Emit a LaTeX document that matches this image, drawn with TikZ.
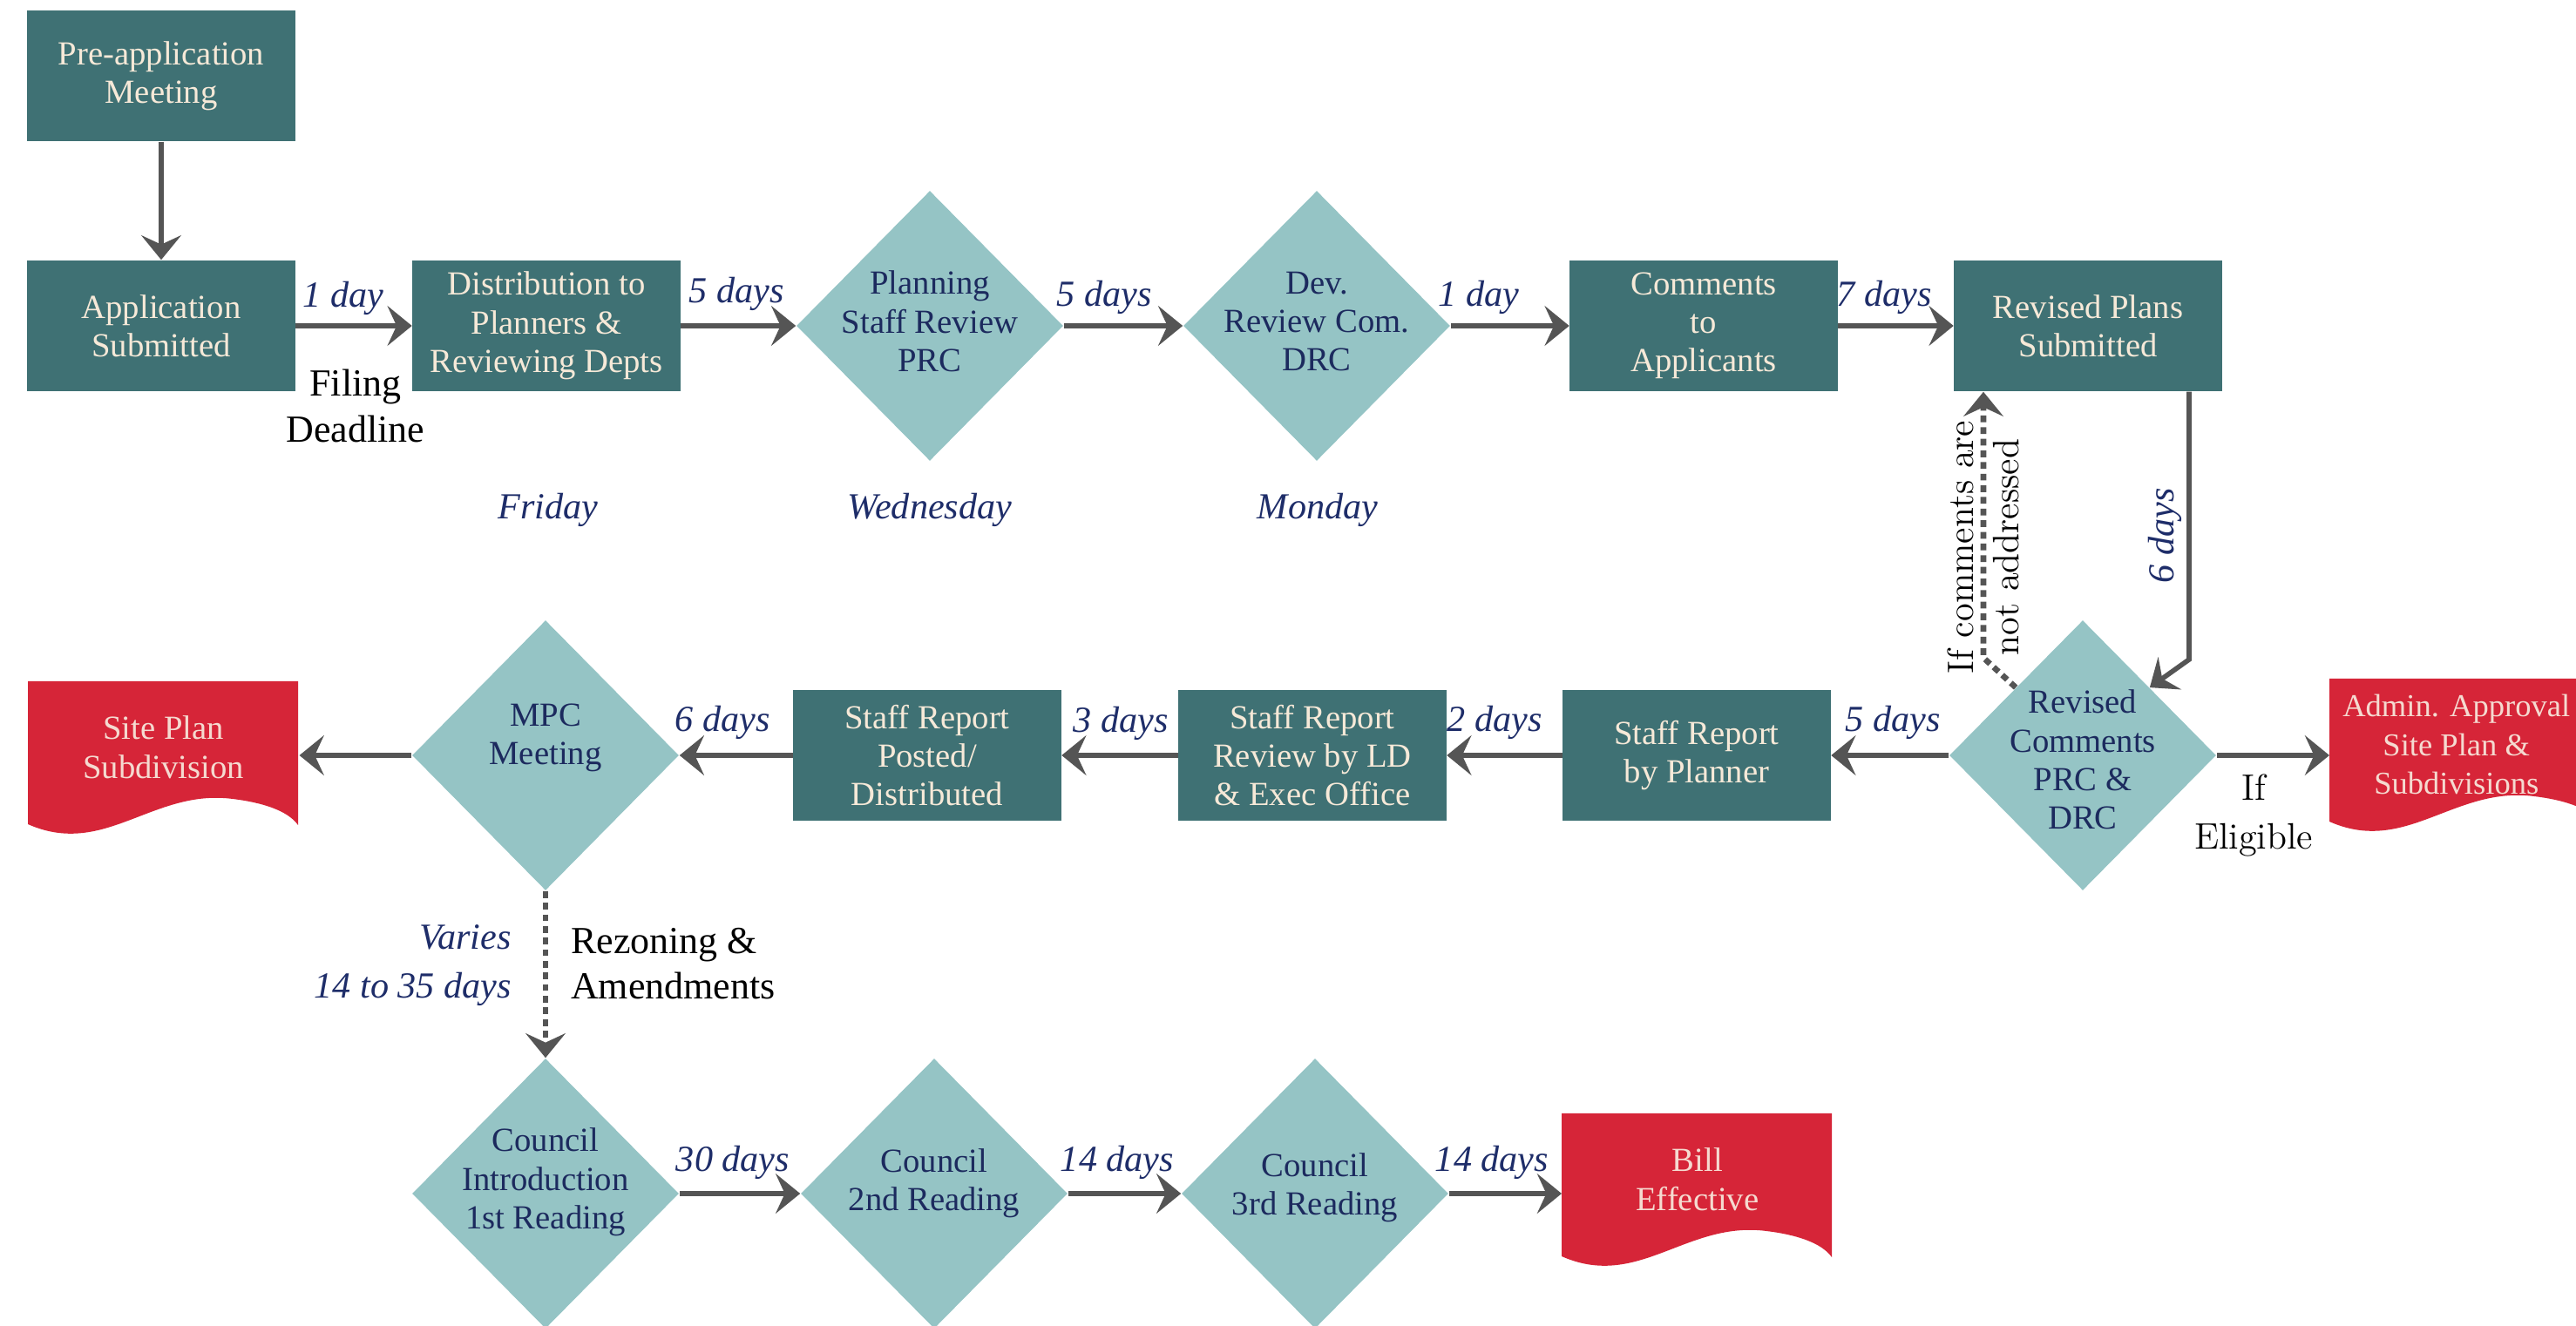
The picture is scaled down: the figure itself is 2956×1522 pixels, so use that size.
\documentclass[tikz,border=0pt]{standalone}
\usepackage{fontspec}
\newfontfamily\garfont{Liberation Serif}
\usetikzlibrary{shapes.geometric, arrows.meta, calc}

\definecolor{boxteal}{RGB}{63,113,116}
\definecolor{diateal}{RGB}{149,196,197}
\definecolor{docred}{RGB}{214,37,56}
\definecolor{navy}{RGB}{28,42,94}
\definecolor{labnavy}{RGB}{30,45,105}
\definecolor{cream}{RGB}{246,233,216}
\definecolor{pinkcream}{RGB}{245,218,208}
\definecolor{arrgray}{RGB}{85,85,85}

% red "document" shape with a wavy lower edge; #1 is its top-left corner
\newcommand{\wavedoc}[1]{%
  \fill[docred] (#1) -- ($(#1)+(310,0)$) -- ($(#1)+(310,165)$)
    .. controls ($(#1)+(298,148)$) and ($(#1)+(268,139)$) .. ($(#1)+(235,135)$)
    .. controls ($(#1)+(143,123)$) and ($(#1)+(88,203)$) .. ($(#1)+(0,164)$) -- cycle;}

\begin{document}
\begin{tikzpicture}[x=0.01cm, y=-0.01cm,
  tealbox/.style={rectangle, fill=boxteal, minimum width=3.07cm, minimum height=1.5cm,
    inner sep=0pt, align=center, text=cream, font=\garfont\fontsize{11}{12.6}\selectfont},
  dia/.style={diamond, aspect=1, fill=diateal, minimum width=3.06cm, minimum height=3.1cm, inner sep=0pt},
  diatext/.style={align=center, text=navy, inner sep=0pt, font=\garfont\fontsize{11}{12.6}\selectfont},
  docbox/.style={rectangle, anchor=north west, minimum width=3.1cm, minimum height=1.5cm,
    inner sep=0pt, align=center, text=pinkcream, font=\garfont\fontsize{11}{12.6}\selectfont},
  daylab/.style={text=labnavy, inner sep=1pt, font=\garfont\itshape\fontsize{12}{16}\selectfont},
  note/.style={text=black, align=center, inner sep=1pt, font=\garfont\fontsize{12.5}{15}\selectfont},
  lmnote/.style={text=black, align=center, inner sep=1pt, font=\fontsize{12}{14.8}\selectfont},
  arr/.style={draw=arrgray, line width=1.6pt, -{Stealth[length=8pt, width=13pt, inset=3pt]}},
  darr/.style={draw=arrgray, line width=1.9pt, dash pattern=on 2.2pt off 1.6pt,
    -{Stealth[length=8pt, width=13pt, inset=3pt]}}
]
\useasboundingbox (0,0) rectangle (2956,1522);
\fill[white] (0,0) rectangle (2956,1522);

% ---- first row: application and review ----
\node[tealbox] (pre) at (185,87) {Pre-application\\Meeting};
\node[tealbox] (app) at (185,374) {Application\\Submitted};
\node[tealbox] (dist) at (627,374) {Distribution to\\Planners \&\\Reviewing Depts};
\node[dia, label={[diatext, yshift=0.05cm]center:{Planning\\Staff Review\\PRC}}] (prc) at (1067,374) {};
\node[dia, label={[diatext, yshift=0.05cm]center:{Dev.\\Review Com.\\DRC}}] (drc) at (1511,374) {};
\node[tealbox] (cta) at (1955,374) {Comments\\to\\Applicants};
\node[tealbox] (rp) at (2396,374) {Revised Plans\\Submitted};

% ---- second row: staff report and MPC ----
\node[dia, label={[diatext, yshift=-0.05cm]center:{Revised\\Comments\\PRC \&\\DRC}}] (rc) at (2390,867) {};
\node[tealbox] (srp) at (1947,867) {Staff Report\\by Planner};
\node[tealbox] (srl) at (1506,867) {Staff Report\\Review by LD\\\& Exec Office};
\node[tealbox] (spd) at (1064,867) {Staff Report\\Posted/\\Distributed};
\node[dia, label={[diatext, yshift=0.2cm]center:{MPC\\Meeting}}] (mpc) at (626,867) {};

\coordinate (sitetl) at (32,782);
\wavedoc{sitetl}
\node[docbox] (site) at (sitetl) {Site Plan\\Subdivision};
\coordinate (admintl) at (2673,779);
\wavedoc{admintl}
\node[docbox, xshift=-0.1cm, font=\garfont\fontsize{10.4}{12.6}\selectfont] (admin) at (admintl) {Admin. Approval\\Site Plan \&\\Subdivisions};

% ---- third row: council readings ----
\node[dia, label={[diatext, yshift=0.13cm]center:{Council\\Introduction\\1st Reading}}] (c1) at (626,1370) {};
\node[dia, label={[diatext, yshift=0.12cm]center:{Council\\2nd Reading}}] (c2) at (1072,1370) {};
\node[dia, label={[diatext, yshift=0.07cm]center:{Council\\3rd Reading}}] (c3) at (1509,1370) {};
\coordinate (billtl) at (1792,1278);
\wavedoc{billtl}
\node[docbox] (bill) at (billtl) {Bill\\Effective};

% ---- connectors ----
\draw[arr] (pre) -- (app);
\draw[arr] (app) -- (dist);
\draw[arr] (dist) -- (prc);
\draw[arr] (prc) -- (drc);
\draw[arr] (drc) -- (cta);
\draw[arr] (cta) -- (rp);
\coordinate (bendA) at (2512,757);
\draw[arr] (rp.south -| bendA) -- (bendA) -- (rc.north east);
\coordinate (bendB) at (2276,755);
\draw[darr] (rc.north west) -- (bendB) -- (bendB |- rp.south);
\draw[arr] (rc) -- (srp);
\draw[arr] (rc.east) -- (rc.east -| admintl);
\draw[arr] (srp) -- (srl);
\draw[arr] (srl) -- (spd);
\draw[arr] (spd) -- (mpc);
\draw[arr] (mpc.west) -- (mpc.west -| site.east);
\draw[darr] (mpc) -- (c1);
\draw[arr] (c1) -- (c2);
\draw[arr] (c2) -- (c3);
\draw[arr] (c3.east) -- (c3.east -| bill.west);

% ---- durations and notes ----
\node[daylab] (d1) at (394,342) {1 day};
\node[daylab] (d2) at (845,337) {5 days};
\node[daylab] (d3) at (1267,341) {5 days};
\node[daylab] (d4) at (1697,341) {1 day};
\node[daylab] (d5) at (2162,341) {7 days};
\node[note] (filing) at (408,466) {Filing\\Deadline};
\node[daylab] (fri) at (629,585) {Friday};
\node[daylab] (wed) at (1067,585) {Wednesday};
\node[daylab] (mon) at (1512,585) {Monday};

\node[daylab, rotate=90] (d6) at (2484,615) {6 days};
\node[lmnote, rotate=90] (ifc) at (2276,628) {If comments are\\not addressed};
\node[lmnote, font=\fontsize{12}{16}\selectfont] (elig) at (2586,936) {If\\Eligible};
\node[daylab] (d7) at (2172,829) {5 days};
\node[daylab] (d8) at (1715,829) {2 days};
\node[daylab] (d9) at (1286,830) {3 days};
\node[daylab] (d10) at (829,829) {6 days};

\node[daylab, align=right, anchor=east] (vary) at (591,1108) {Varies\\14 to 35 days};
\node[note, align=left, anchor=west, font=\garfont\fontsize{12.5}{14.8}\selectfont] (rez) at (651,1106) {Rezoning \&\\Amendments};
\node[daylab] (d11) at (841,1334) {30 days};
\node[daylab] (d12) at (1282,1334) {14 days};
\node[daylab] (d13) at (1712,1334) {14 days};
\end{tikzpicture}
\end{document}
